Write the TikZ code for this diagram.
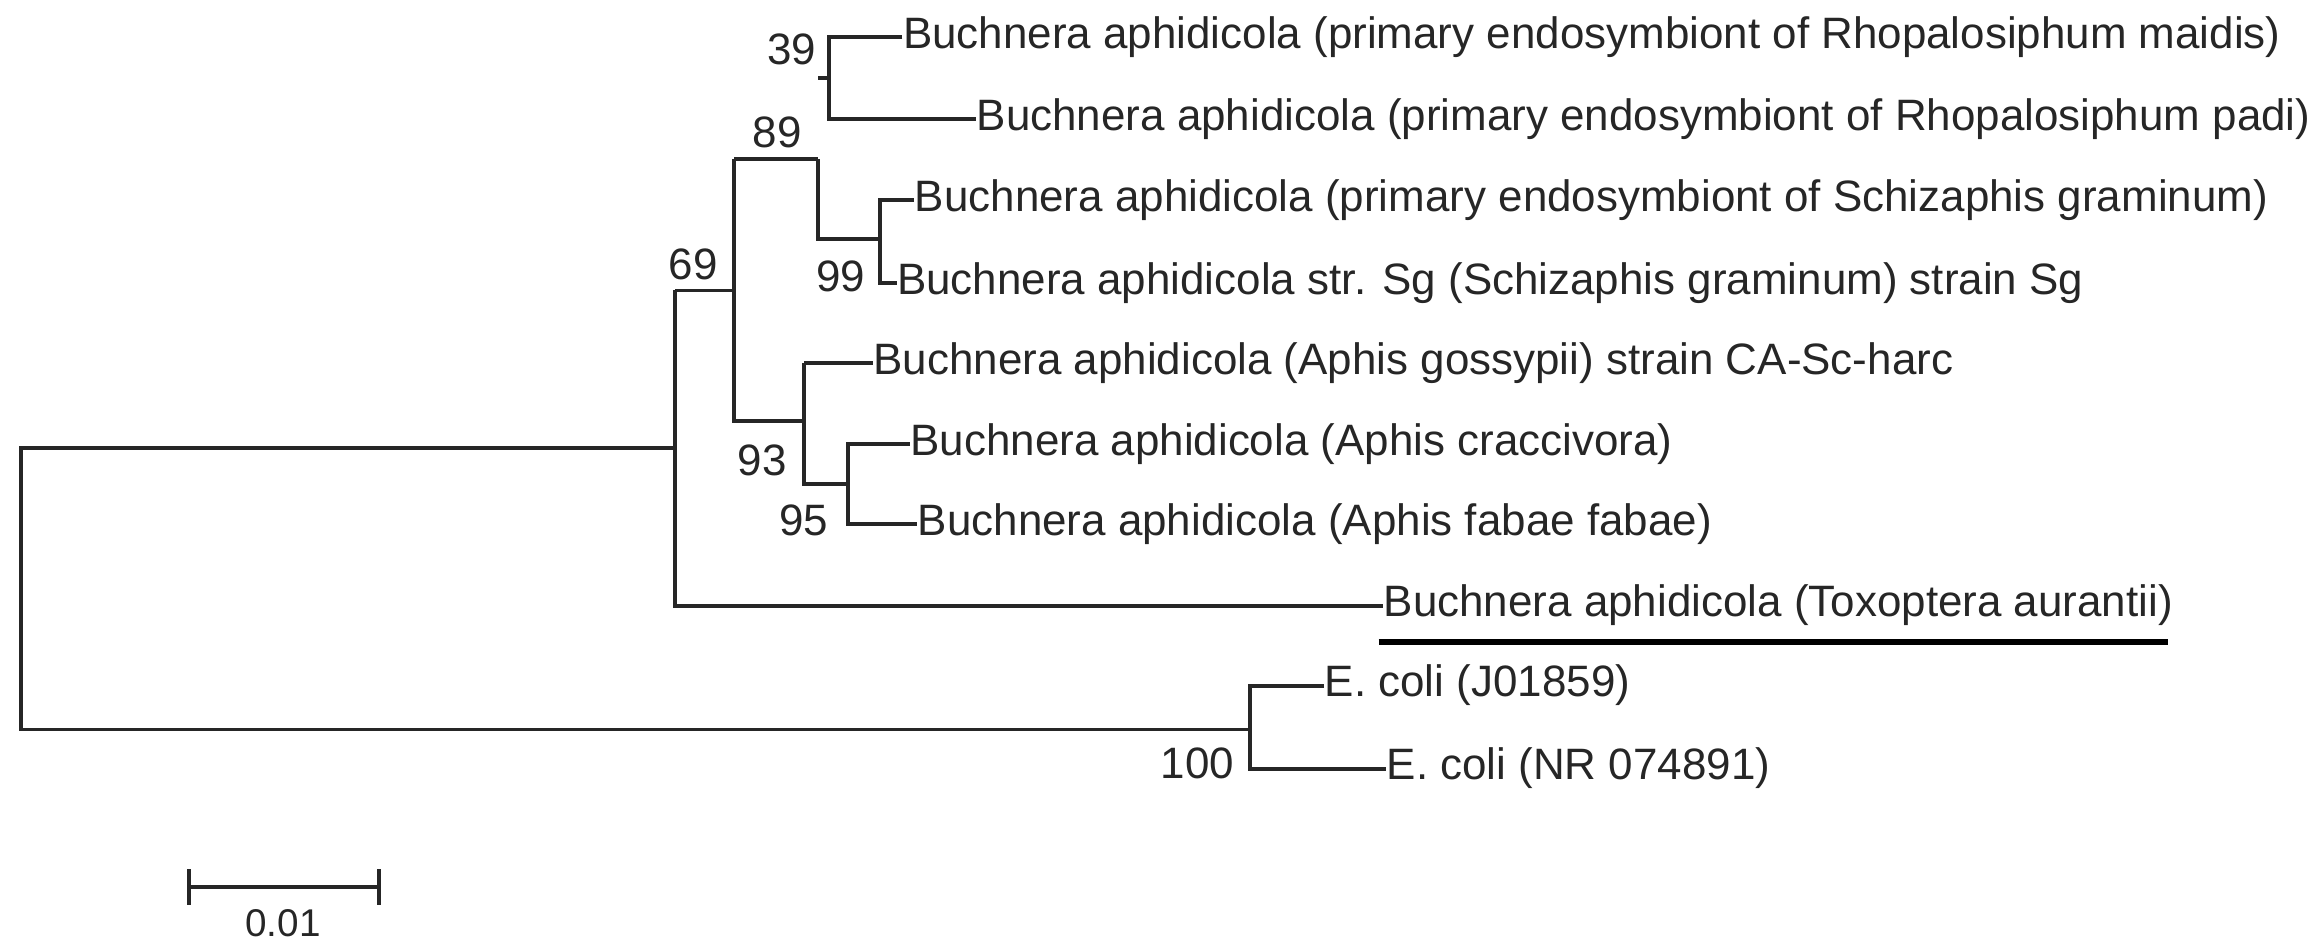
\documentclass[tikz,border=0pt]{standalone}
\usepackage{fontspec}
\setmainfont{Liberation Sans}
\begin{document}
\begin{tikzpicture}[x=0.014745cm,y=-0.006008cm,
  br/.style={line width=1.1pt,draw=black!85},
  lab/.style={anchor=west,inner sep=0pt,font=\fontsize{12.5}{14}\selectfont,text=black!85},
  bs/.style={inner sep=0pt,font=\fontsize{12.5}{14}\selectfont,text=black!85}]
\useasboundingbox (0,0) rectangle (1568,1568);
% leaves
\node[lab] (l1) at (612,62) {Buchnera aphidicola (primary endosymbiont of Rhopalosiphum maidis)};
\node[lab] (l2) at (662,198) {Buchnera aphidicola (primary endosymbiont of Rhopalosiphum padi)};
\node[lab] (l3) at (620,332) {Buchnera aphidicola (primary endosymbiont of Schizaphis graminum)};
\node[lab] (l4) at (608,470) {Buchnera aphidicola str. Sg (Schizaphis graminum) strain Sg};
\node[lab] (l5) at (592,603) {Buchnera aphidicola (Aphis gossypii) strain CA-Sc-harc};
\node[lab] (l6) at (617,738) {Buchnera aphidicola (Aphis craccivora)};
\node[lab] (l7) at (622,872) {Buchnera aphidicola (Aphis fabae fabae)};
\node[lab] (l8) at (938,1007) {Buchnera aphidicola (Toxoptera aurantii)};
\node[lab] (l9) at (898,1140) {E. coli (J01859)};
\node[lab] (l10) at (940,1278) {E. coli (NR 074891)};
% internal nodes
\coordinate (r) at (14,979);
\coordinate (a) at (458,745);
\coordinate (b) at (498,483);
\coordinate (c) at (555,265);
\coordinate (n39) at (562,130);
\coordinate (d) at (597,398);
\coordinate (e) at (545,700);
\coordinate (f) at (575,805);
\coordinate (g) at (848,1213);
% branches
\draw[br] (a |- 0,745) -- (r |- 0,745) -- (r |- 0,1213) -- (g);
\draw[br] (a |- 0,483) -- (a |- 0,1007) -- (l8.west);
\draw[br] (a |- 0,483) -- (b);
\draw[br] (b |- 0,265) -- (b |- 0,700) -- (e);
\draw[br] (b |- 0,265) -- (c);
\draw[br] (c) -- (c |- 0,398) -- (d);
\draw[br] (c |- 0,130) -- (n39);
\draw[br] (l1.west) -- (n39 |- 0,62) -- (n39 |- 0,198) -- (l2.west);
\draw[br] (l3.west) -- (d |- 0,332) -- (d |- 0,470) -- (l4.west);
\draw[br] (e |- 0,603) -- (e |- 0,805) -- (f);
\draw[br] (l5.west) -- (e |- 0,603);
\draw[br] (l6.west) -- (f |- 0,738) -- (f |- 0,872) -- (l7.west);
\draw[br] (l9.west) -- (g |- 0,1140) -- (g |- 0,1278) -- (l10.west);
\draw[line width=1.6pt] (935,1068) coordinate (u1) -- (1470,1068) coordinate (u2);
% bootstrap
\node[bs] (b39) at (537,82) {39};
\node[bs] (b89) at (527,220) {89};
\node[bs] (b99) at (570,460) {99};
\node[bs] (b69) at (470,440) {69};
\node[bs] (b93) at (517,765) {93};
\node[bs] (b95) at (545,865) {95};
\node[bs] (b100) at (812,1270) {100};
% scale
\coordinate (s1) at (128,1475);
\coordinate (s2) at (257,1475);
\draw[br] (s1) -- (s2);
\draw[br] (128,1445) -- (128,1505);
\draw[br] (257,1445) -- (257,1505);
\node[bs,font=\fontsize{11}{13}\selectfont] (sl) at (192,1535) {0.01};
\end{tikzpicture}
\end{document}
